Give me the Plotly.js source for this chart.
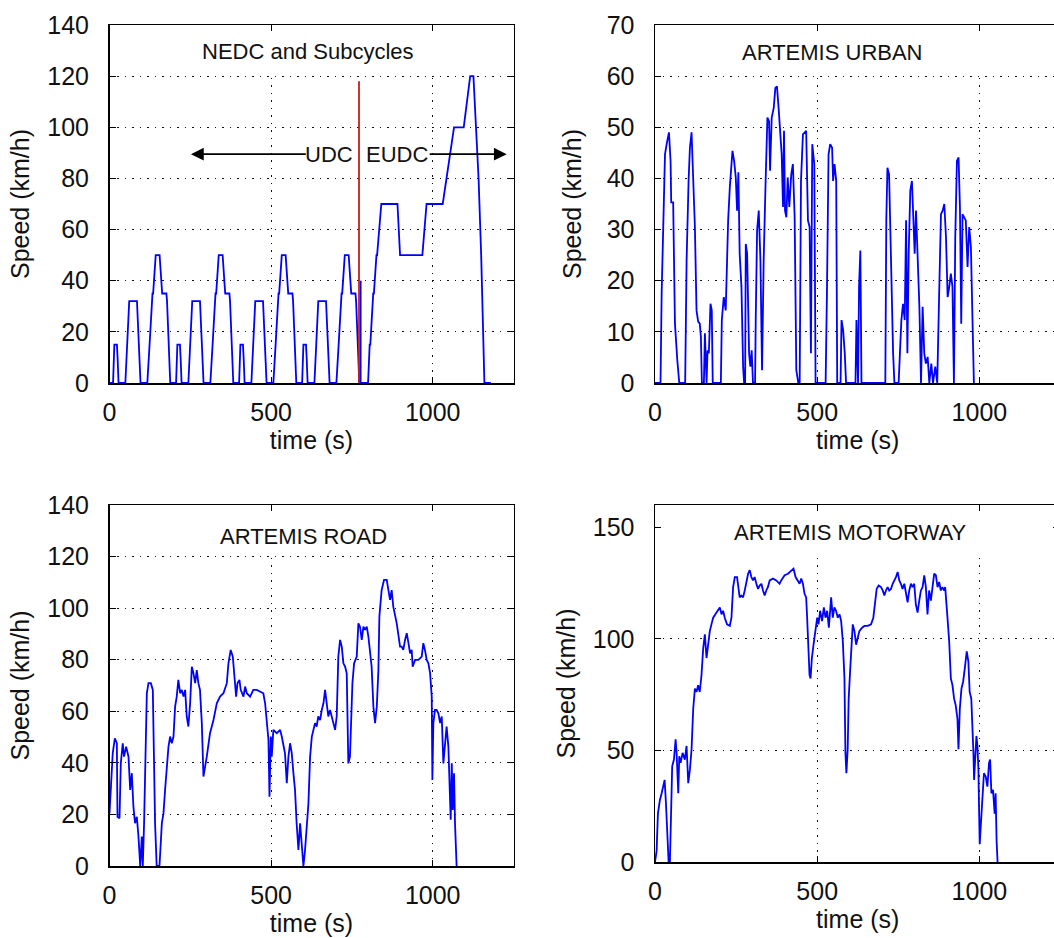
<!DOCTYPE html>
<html>
<head>
<meta charset="utf-8">
<script src="https://cdn.plot.ly/plotly-3.0.1.min.js"></script>
<style>
html, body { margin:0; padding:0; overflow:hidden; background:#fff; }
#chart { width:1070px; height:938px; }
</style>
</head>
<body>
<div id="chart"></div>
<script>
// ---------------- DATA ----------------
const panelTitles = ['NEDC and Subcycles', 'ARTEMIS URBAN', 'ARTEMIS ROAD', 'ARTEMIS MOTORWAY'];
const xTickVals = [0, 500, 1000];

// NEDC: four UDC (ECE-15) subcycles followed by the EUDC
const nedcTime = [
  0,11,15,23,25,28,49,54,56,61,85,93,96,117,122,124,133,135,143,155,163,176,178,185,188,
  195,206,210,218,220,223,244,249,251,256,280,288,291,312,317,319,328,330,338,350,358,371,373,380,383,
  390,401,405,413,415,418,439,444,446,451,475,483,486,507,512,514,523,525,533,545,553,566,568,575,578,
  585,596,600,608,610,613,634,639,641,646,670,678,681,702,707,709,718,720,728,740,748,761,763,770,773,
  780,800,805,807,816,818,826,828,841,891,899,968,981,1031,1066,1096,1116,1126,1142,1150,1160,1180
];
const nedcSpeed = [
  0,0,15,15,10,0,0,15,15,32,32,10,0,0,15,15,35,35,50,50,35,35,32,10,0,
  0,0,15,15,10,0,0,15,15,32,32,10,0,0,15,15,35,35,50,50,35,35,32,10,0,
  0,0,15,15,10,0,0,15,15,32,32,10,0,0,15,15,35,35,50,50,35,35,32,10,0,
  0,0,15,15,10,0,0,15,15,32,32,10,0,0,15,15,35,35,50,50,35,35,32,10,0,
  0,0,15,15,35,35,50,50,70,70,50,50,70,70,100,100,120,120,80,50,0,0
];
const splitTime = [772, 772];
const splitSpeed = [0, 118];
const spikeTime = [777, 777];
const spikeSpeed = [0, 40];

const urbanTime = [
  0,17,20.5,25.6,30.8,35.9,43,48,50,56,61.5,68.7,74.8,93,97.4,103.5,107.6,112.7,118,123,128,133,138,141.5,144.5,
  150.7,153.8,159,162,166,171,175,178,203,206,212,218,225.5,230.6,238.8,244,249,253,257,261,266.5,271.6,274.7,
  277.8,279.8,284,287,290,294,298,302,308.5,310.6,314.7,319.8,325,330,335,341,346.5,351.6,354.7,359.8,366,371,
  376,381,385.4,390.5,394.6,397.7,400.8,404.9,409,414,420,425,430.5,435.6,441.8,446,450,456,466,471.5,476.6,
  480.7,484.8,491,495,526,530,535,540,546,549,553.5,558.6,561.7,572,575,580,585,589,618,621,626,629,633,636.5,
  710,713,716.5,721.6,724.7,729,734,738,751,755,759.5,764.6,769.8,774,778,782,787,792,796.4,800.5,804.6,809.8,
  815,820,825,830,835,840.5,845.6,851.8,857,864,870,876,881.5,886.6,891.8,897,902,907,912,917,921.5,925.6,
  930.7,935.8,940,944,948,953,958,963.5,968.6,973.8,979,983
];
const urbanSpeed = [
  0,0,17.5,31.8,44.7,46.7,49,43.4,35.3,35.3,11.6,4.5,0,0,24,39.5,46,49,40.2,30.5,14.2,12,11.6,9,0,
  0,9.7,0,6.4,5.8,15.5,14.2,0,0,12.3,16.8,14.2,31.8,38.2,45.4,43.4,40.2,33.7,41.2,25.3,18.8,3.2,0,
  0,27.2,25.3,12.3,5.8,3.2,6.4,0,0,12.9,29.8,33.7,24,2.5,24,39.5,51.9,51.2,41.5,51.9,53.8,57.7,
  58,53.8,49.9,44.7,34.4,49.3,33.7,32.4,40.2,34.4,40.8,42.8,32.4,2.5,0,0,39.5,48.6,49.3,31.8,30.5,
  5.8,46.7,42.8,0,0,17.5,44.7,46.7,46,39.5,42.8,39.5,0,0,12.3,10.3,5.8,0,0,12.3,0,18.8,25.9,0,
  0,31.8,42.1,40.8,31.8,14.2,5.8,0,0,5.8,12.3,15.5,12.3,31.8,5.8,25.3,37.6,39.5,33.7,25.3,33.7,25.3,
  14.9,0,14.9,5.8,3.8,5.1,0,3.8,0,3.2,0,17.5,33,33.7,35,28.5,16.8,18.8,21.4,18.8,0,28.5,
  43.4,44.1,34.4,11.6,33,32.4,31.8,22.7,30.5,26.6,14.2,0
];

const roadTime = [
  0,5,10,16.5,22.7,24.7,31,35,41,45,51.5,58.8,64,69,74,79,84.5,89.7,95,100,103,107,111,115.5,120.6,128,134,138,141,146,
  154.6,162,167,172,177,182.5,187.6,192.8,198,203,208,213,218.6,223.7,229,234,239,244,249.5,254.7,259.8,265,270,275,280,
  285.6,290.7,296,301,311,321.7,332,342,352.6,363,368,375,381.5,385.6,391.8,396,402,406,414.5,419.6,424.8,435,445,455.7,
  466,476,481.5,486.6,491.8,495,499,502,507,517.6,528,533,538,543,548.5,553.6,558.8,564,569,574,579,584.6,589.7,595,600,
  605,610,615.5,620.7,626,636,641,646,651.6,656.7,662,667,672,677,682.5,687.7,693,698,703,708,713.5,718.6,723.7,729,734,
  739,744,746.4,751.6,756.8,765,770,775,780.5,785.6,790.8,796,801,806,811,816.5,821.7,827,832,835,842,849.5,857.8,863,868,
  873,878,888.7,894,899,904,909,914.5,919.7,925,930,935,938,945.5,955.7,966,971,976,981.5,986.7,992,997,999,1002,1007,
  1012,1017.6,1023,1028,1033,1038,1043,1048.5,1051.6,1055.7,1059,1062,1066,1069,1074
];
const roadSpeed = [
  20.4,33.4,43.7,49.5,47.6,19.1,18.5,39.8,47.6,42.4,46.3,42.4,29.5,36,23,16.6,19.1,11.4,0,11.4,0,16.6,47.6,67,70.9,70.9,68.3,42.4,16.6,0,
  0,16.6,20.4,29.5,39.8,46.3,50.2,47.6,50.2,61.8,65.7,72.2,67,68.3,65.7,68.3,58,54.1,63.1,77.3,74.7,70.9,76,70.9,68.3,
  55.4,34.7,38.5,42.4,51.5,56.6,63.1,65.7,67,70.9,78.6,83.8,81.2,73.5,65.7,70.9,72.2,68.3,65.7,69.6,67,65.7,68.3,68.3,
  67.6,67,63.1,55.4,48.9,26.9,50.2,42.4,52.8,51.5,52.8,50.2,46.3,43.7,32.1,42.4,47.6,43.7,36,29.5,16.6,6.2,16.6,7.5,0,
  6.2,16.6,24.3,42.4,50.2,55.4,54.1,58,56.6,60.5,63.1,68.3,63.1,58,60.5,58,55.4,52.8,58,81.2,87.7,85.1,78.6,77.3,74.7,
  39.8,42.4,55.4,70.9,78.6,81.2,94.1,92.8,87.7,92.8,91.6,92.8,89,83.8,77.3,61.8,55.4,61.8,76,96.7,107,111,111,107,103.2,
  107,100.6,94.1,89,85.1,85.1,83.8,87.7,90.3,86.4,82.5,83.8,77.3,79.9,79.9,81.2,86.4,83.8,79.9,78.6,74.7,65.7,33.4,55.4,60.5,
  60.5,59.2,55.4,58,39.8,47.6,54.1,46.3,36,17.9,39.8,21.7,36,16.6,0
];

const motorwayTime = [
  0,5,9,15,20.5,25.6,29.7,33.8,38,42,46,49,53,58.4,63.5,66.6,71.7,74.8,79,85,92,97.3,102.5,107.6,112.7,117.8,123,128,133,
  138,143.4,148.6,153.7,158.8,164,169,174,179.3,189.6,199.8,205,210,215,222,230.5,235.7,240.8,246,253,258,261,266,271.5,
  276.6,281.8,287,292,297,302,307,312.5,317.6,322.7,328,333,338,343,348,353.5,363.7,374,384,389,399.6,410,420,427,433.4,
  440.6,445.7,450.8,456,461,466,469,473,476.4,479.5,483.6,488.7,495,500,504,509,515,520.5,525.6,530.7,535.9,540,543,548,
  553,558,563.5,568.7,573.8,579,584,587,590,594,597,601.4,605.5,609.6,614.8,620,625,630,638.3,645.5,655.7,666,673,678,
  683.4,689.6,696.7,702,707,712,717,722,727.5,732.6,737.7,742.8,748,753,758,763,768.5,773.6,778.7,783.8,789,794,799,804,
  809.4,814.6,819.7,824.8,830,835,840,845,850.4,855.5,860.7,865.8,871,876,881,886,891.4,894.5,898.6,901.6,906.8,912,917,
  922,927,932.4,935.5,939.6,944.7,949.8,955,961,966,970,975,978.5,981.6,983.6,986.7,990.8,994,997,999,1001,1004,1009,
  1014,1019.5,1024.6,1029.7,1033,1037,1042,1047,1050,1053,1056
];
const motorwaySpeed = [
  0,5,21.7,27.7,30.8,33.8,36.8,26.2,8,0,0,23.2,42.9,45.9,55,48.9,30.8,47.4,44.4,48.9,45.9,52,35.3,41.4,50.5,68.6,77.7,76.2,79.2,
  76.2,83.8,95.9,102,91.4,98.9,103.5,106.5,109.5,111.8,114.1,111,112.6,109.5,106.5,105.8,109.5,123.2,127.7,127.7,123.2,118.6,119.4,118.6,
  121.7,126.2,129.2,130.8,127.7,126.2,127.7,124.7,122.4,123.9,124.7,121.7,119.4,121.7,123.2,126.2,127,126.2,124.7,126.2,128.5,129.2,130.8,131.5,127.7,
  126.2,124.7,127,124.7,120.2,118.6,109.5,94.4,83.8,82.3,91.4,97.4,103.5,109.5,106.5,112.6,108,114.1,109.5,112.6,105,115.6,118.6,109.5,
  114.1,112.6,109.5,111,108,98.9,82.3,48.9,39.8,50.5,73.2,85.3,98.9,106.5,103.5,97.4,100.5,103.5,105,105.8,105.8,106.5,109.5,115.6,
  122.4,123.9,123.2,121.7,119.4,121.7,123.2,121.7,122.4,124.7,126.2,127.7,130,126.2,124.7,122.4,124.7,120.9,116.4,121.7,124.7,123.2,124.7,115.6,
  111.8,117.1,121.7,123.2,128.5,123.2,111,121.7,117.1,123.2,129.2,128.5,123.2,125.5,121.7,123.2,121.7,123.2,117.1,109.5,98.9,82.3,79.2,
  73.2,70.2,64.1,50.5,68.6,77.7,80.8,86.8,94.4,89.8,76.2,73.2,62.6,48.9,36.8,48.9,56.5,52,41.4,23.2,8,15.6,30.8,
  39.8,38.3,33.8,44.4,45.9,30.8,32.3,21.7,30.8,9.5,0
];

// ---------------- STYLE ----------------
const W = 1070, H = 938;
const FONT = 'Liberation Sans, Arial, Helvetica, sans-serif';
const BLUE = '#0000ff';

function line(x, y, xa, ya, color) {
  return {x: x, y: y, xaxis: xa, yaxis: ya, type: 'scatter', mode: 'lines',
          line: {color: color || BLUE, width: 1.8}, hoverinfo: 'skip'};
}
const data = [
  line(nedcTime, nedcSpeed, 'x', 'y'),
  line(spikeTime, spikeSpeed, 'x', 'y'),
  line(splitTime, splitSpeed, 'x', 'y', '#cc1a1a'),
  line(urbanTime, urbanSpeed, 'x2', 'y2'),
  line(roadTime, roadSpeed, 'x3', 'y3'),
  line(motorwayTime, motorwaySpeed, 'x4', 'y4')
];

const colL = [109.5 / W, 513.5 / W];
const colR = [655 / W, 1060.5 / W];
const rowT = [(H - 383) / H, (H - 25) / H];
const rowBL = [(H - 866) / H, (H - 505) / H];
const rowBR = [(H - 862) / H, (H - 505) / H];

function xAxis(domain, anchor) {
  return {
    domain: domain, anchor: anchor, range: [0, 1250], tickvals: xTickVals,
    ticks: 'inside', ticklen: 6, tickcolor: '#000', tickwidth: 1,
    showline: true, linecolor: '#000', linewidth: 1.5, mirror: 'ticks',
    showgrid: true, gridcolor: '#111', gridwidth: 1.2, griddash: '1.5px,6px',
    zeroline: false, ticklabelstandoff: 6,
    tickfont: {family: FONT, size: 25, color: '#111'},
    title: {text: 'time (s)', font: {family: FONT, size: 25, color: '#111'}, standoff: 4},
    automargin: false, fixedrange: true
  };
}
function yAxis(domain, anchor, range, dtick, standoff) {
  return {
    domain: domain, anchor: anchor, range: range, dtick: dtick, tick0: 0,
    ticks: 'inside', ticklen: 6, tickcolor: '#000', tickwidth: 1,
    showline: true, linecolor: '#000', linewidth: 1.5, mirror: 'ticks',
    showgrid: true, gridcolor: '#111', gridwidth: 1.2, griddash: '1.5px,6px',
    zeroline: false, ticklabelstandoff: 14,
    tickfont: {family: FONT, size: 25, color: '#111'},
    title: {text: 'Speed (km/h)', font: {family: FONT, size: 25, color: '#111'}, standoff: standoff},
    automargin: false, fixedrange: true
  };
}

// white bands at the top of each panel behind the titles (hide grid there),
// kept clear of the frame and its ticks
function band(xr, yr, y0, y1) {
  return {type: 'rect', xref: xr + ' domain', yref: yr, x0: 0.02, x1: 0.98, y0: y0, y1: y1,
          fillcolor: '#fff', line: {width: 0}, layer: 'above'};
}
function label(text, xr, yr, x, y, size) {
  return {text: text, xref: xr, yref: yr, x: x, y: y, showarrow: false,
          xanchor: 'center', yanchor: 'middle',
          font: {family: FONT, size: size, color: '#111'}};
}
function arrow(xr, yr, tailX, headX, y) {
  return {text: '', xref: xr, yref: yr, x: headX, y: y, ax: tailX, ay: y,
          axref: xr, ayref: yr, showarrow: true, arrowhead: 2, arrowsize: 1.6,
          arrowwidth: 1.6, arrowcolor: '#000', standoff: 0};
}

const layout = {
  width: W, height: H,
  margin: {l: 0, r: 0, t: 0, b: 0, pad: 0},
  paper_bgcolor: '#fff', plot_bgcolor: '#fff',
  showlegend: false,
  xaxis: xAxis(colL, 'y'),
  yaxis: yAxis(rowT, 'x', [0, 140], 20, 10),
  xaxis2: xAxis(colR, 'y2'),
  yaxis2: yAxis(rowT, 'x2', [0, 70], 10, 18),
  xaxis3: xAxis(colL, 'y3'),
  yaxis3: yAxis(rowBL, 'x3', [0, 140], 20, 10),
  xaxis4: xAxis(colR, 'y4'),
  yaxis4: yAxis(rowBR, 'x4', [0, 160], 50, 10),
  shapes: [
    band('x', 'y', 121, 137.3),
    band('x2', 'y2', 60.6, 68.6),
    band('x3', 'y3', 121, 137.3),
    band('x4', 'y4', 138.5, 156.9)
  ],
  annotations: [
    label(panelTitles[0], 'x', 'y', 613, 129.5, 22),
    label(panelTitles[1], 'x2', 'y2', 547, 64.6, 22),
    label(panelTitles[2], 'x3', 'y3', 599, 127.7, 22),
    label(panelTitles[3], 'x4', 'y4', 604, 147.5, 22),
    arrow('x', 'y', 612, 252, 89.5),
    arrow('x', 'y', 986, 1229, 89.5),
    label('UDC', 'x', 'y', 680, 89.5, 22),
    label('EUDC', 'x', 'y', 889, 89.5, 22)
  ]
};

Plotly.newPlot('chart', data, layout, {staticPlot: true, displayModeBar: false});
</script>
</body>
</html>
